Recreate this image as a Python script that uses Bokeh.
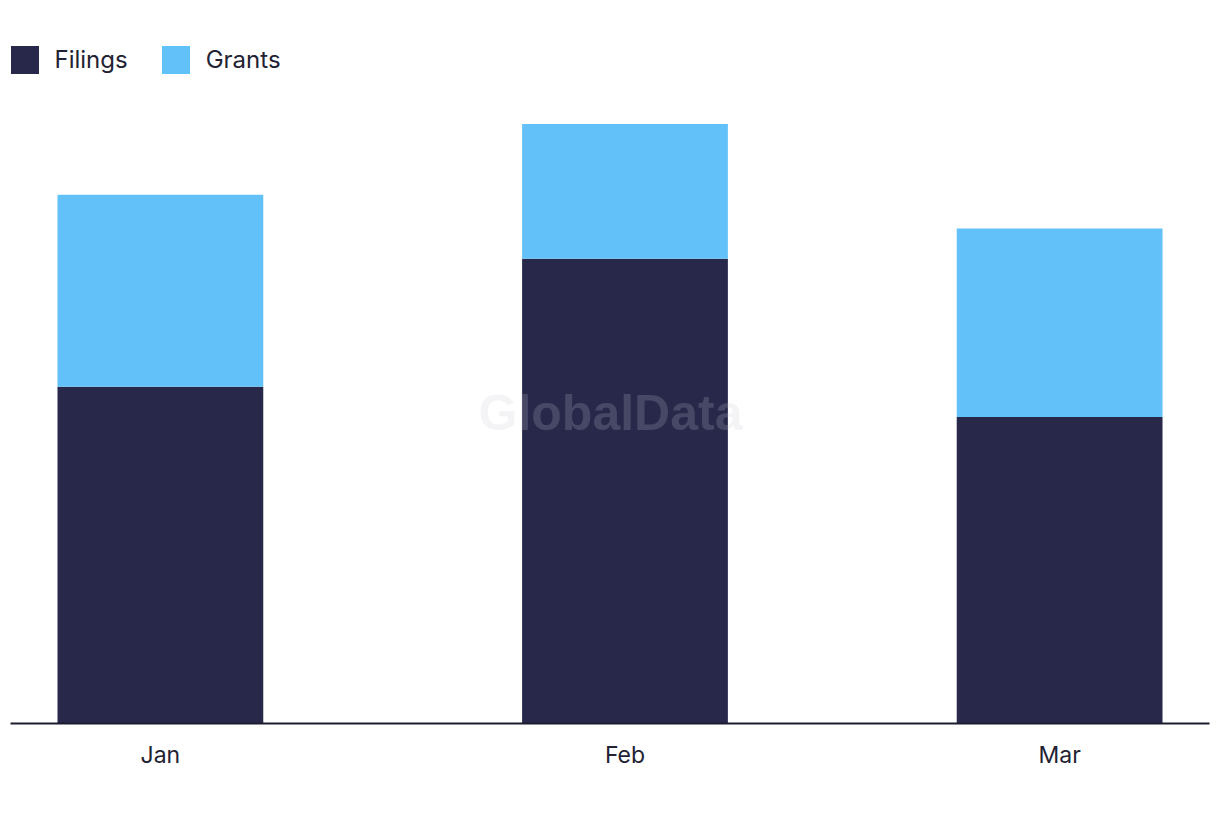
import pandas as pd
from bokeh.plotting import figure
from bokeh.models import ColumnDataSource, Range1d, FixedTicker, DatetimeTickFormatter, Label
from bokeh.embed import file_html
from bokeh.resources import INLINE

# ---- data ----
months = ["2024-01-01", "2024-02-01", "2024-03-01"]
month_labels = ["Jan", "Feb", "Mar"]
filings = [50, 69, 45.5]
grants = [28.5, 20, 28]
series = ["Filings", "Grants"]
colors = ["#27284A", "#62C1F8"]

dates = pd.to_datetime(months)
source = ColumnDataSource(dict(x=dates, Filings=filings, Grants=grants))

DAY_MS = 86400000
x_start = dates[0] - pd.Timedelta(days=10)
x_end = dates[-1] + pd.Timedelta(days=10)

p = figure(
    width=1220, height=822,
    x_axis_type="datetime",
    x_range=Range1d(x_start, x_end),
    y_range=Range1d(0, 100.67),
    output_backend="svg", toolbar_location=None,
    y_axis_location=None,
    min_border_left=10, min_border_right=11,
    min_border_top=45, min_border_bottom=99,
    outline_line_color=None,
    background_fill_color="white", border_fill_color="white",
)
p.xgrid.visible = False
p.ygrid.visible = False

p.vbar_stack(series, x="x", width=13.73 * DAY_MS, source=source,
             fill_color=colors, line_color=None, legend_label=series)

ax = p.xaxis[0]
ax.ticker = FixedTicker(ticks=[d.value // 10**6 for d in dates])
ax.formatter = DatetimeTickFormatter(days="%b", months="%b", years="%b")
ax.axis_line_color = "#1c1c30"
ax.axis_line_width = 2
ax.major_tick_line_color = None
ax.minor_tick_line_color = None
ax.major_label_standoff = 11
ax.major_label_text_font = "Inter"
ax.major_label_text_font_size = "23px"
ax.major_label_text_color = "#222233"

wm = Label(x=600, y=311, x_units="screen", y_units="screen", text="GlobalData",
           text_font="Liberation Sans", text_font_style="bold", text_font_size="50px",
           text_color="#c8c8d0", text_alpha=0.2, text_align="center", text_baseline="middle")
p.add_layout(wm)

lg = p.legend[0]
lg.location = (-3.5, 646.5)
lg.orientation = "horizontal"
lg.margin = 0
lg.padding = 0
lg.spacing = 30
lg.glyph_width = 35
lg.glyph_height = 35
lg.label_standoff = 13
lg.label_text_font = "Inter"
lg.label_text_font_size = "24px"
lg.label_text_color = "#222233"
lg.border_line_color = None
lg.background_fill_alpha = 0

open("out.html", "w").write(file_html(p, INLINE))
